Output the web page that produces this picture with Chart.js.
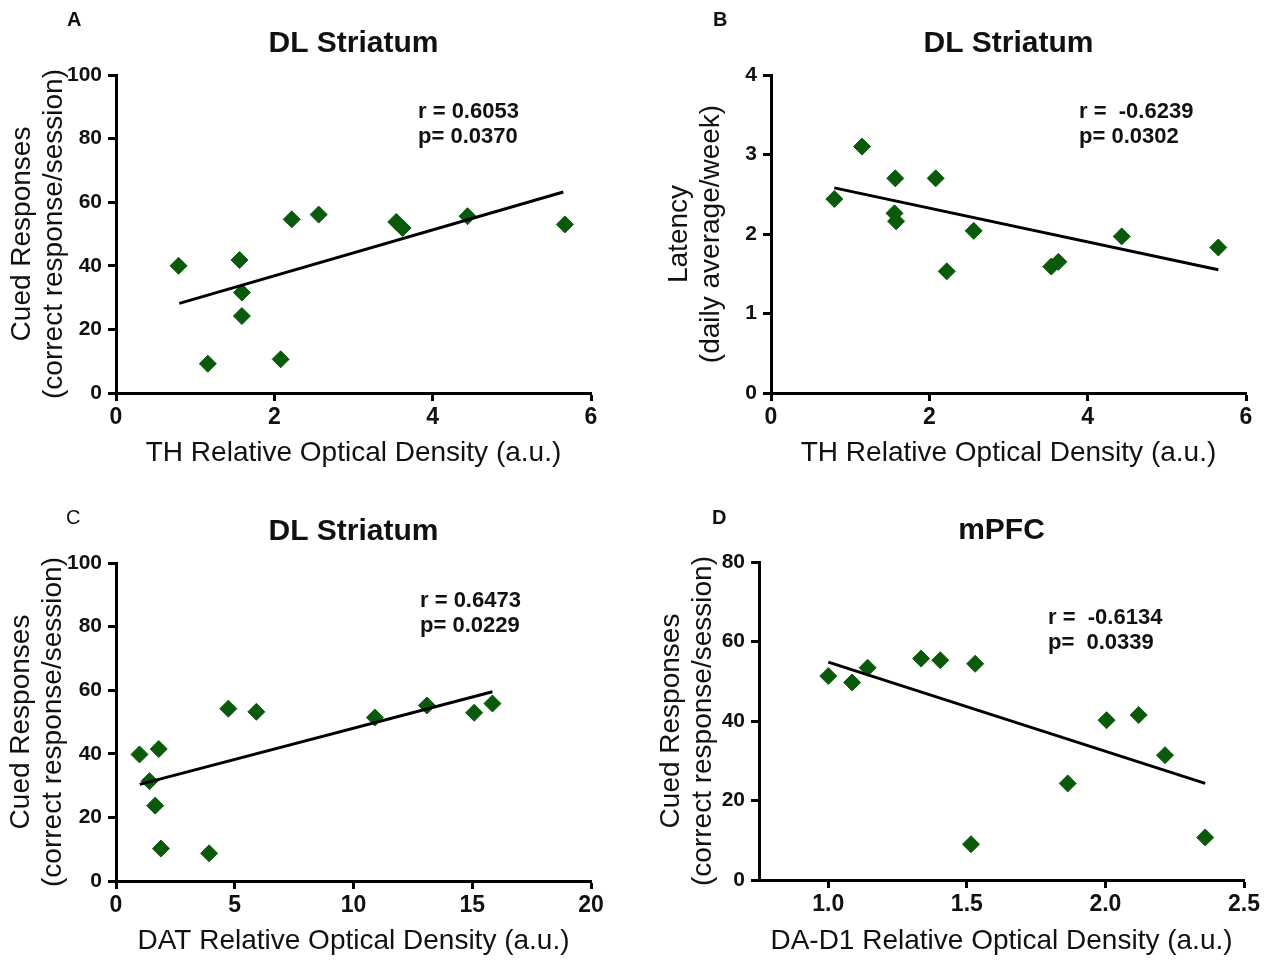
<!DOCTYPE html>
<html><head><meta charset="utf-8">
<script src="https://cdn.jsdelivr.net/npm/chart.js@4.4.1/dist/chart.umd.min.js"></script>
<style>
html,body{margin:0;padding:0;background:#fff;}
#wrap{position:relative;width:1273px;height:960px;overflow:hidden;background:#fff;}
canvas{position:absolute;left:0;top:0;}
</style></head><body><div id="wrap">
<canvas id="cA" width="1273" height="960"></canvas>
<canvas id="cB" width="1273" height="960"></canvas>
<canvas id="cC" width="1273" height="960"></canvas>
<canvas id="cD" width="1273" height="960"></canvas>
</div>
<script>
// ---------- data ----------
const thDensityA = [0.79, 1.16, 1.56, 1.59, 1.59, 2.08, 2.22, 2.56, 3.54, 3.62, 4.44, 5.67];
const cuedA      = [40.0, 9.2, 41.8, 31.6, 24.2, 10.6, 54.6, 56.1, 53.8, 51.9, 55.6, 53.0];
const thDensityB = [0.80, 1.15, 1.57, 1.56, 1.58, 2.08, 2.22, 2.56, 3.54, 3.63, 4.43, 5.65];
const latencyB   = [2.44, 3.10, 2.70, 2.26, 2.16, 2.70, 1.53, 2.04, 1.59, 1.65, 1.97, 1.83];
const datDensityC = [0.99, 1.41, 1.80, 1.65, 1.89, 3.92, 4.73, 5.91, 10.90, 13.09, 15.08, 15.85];
const cuedC       = [39.8, 31.4, 41.5, 23.7, 10.2, 8.7, 54.2, 53.2, 51.4, 55.2, 52.9, 55.8];
const d1DensityD = [1.00, 1.086, 1.142, 1.335, 1.404, 1.53, 1.515, 1.864, 2.004, 2.12, 2.215, 2.36];
const cuedD      = [51.3, 49.7, 53.4, 55.7, 55.3, 54.4, 9.0, 24.3, 40.2, 41.5, 31.4, 10.7];

// regression line end points
const fitAx = [0.80, 5.65], fitAy = [28.2, 63.2];
const fitBx = [0.80, 5.65], fitBy = [2.58, 1.55];
const fitCx = [1.00, 15.85], fitCy = [30.4, 59.5];
const fitDx = [1.00, 2.36], fitDy = [54.8, 24.3];

// ticks
const xTicksA = [0, 2, 4, 6],        xLabelsA = ['0','2','4','6'];
const yTicksA = [0, 20, 40, 60, 80, 100], yLabelsA = ['0','20','40','60','80','100'];
const xTicksB = [0, 2, 4, 6],        xLabelsB = ['0','2','4','6'];
const yTicksB = [0, 1, 2, 3, 4],     yLabelsB = ['0','1','2','3','4'];
const xTicksC = [0, 5, 10, 15, 20],  xLabelsC = ['0','5','10','15','20'];
const yTicksC = [0, 20, 40, 60, 80, 100], yLabelsC = ['0','20','40','60','80','100'];
const xTicksD = [1.0, 1.5, 2.0, 2.5], xLabelsD = ['1.0','1.5','2.0','2.5'];
const yTicksD = [0, 20, 40, 60, 80],  yLabelsD = ['0','20','40','60','80'];

// texts
const letters = ['A', 'B', 'C', 'D'];
const titles = ['DL Striatum', 'DL Striatum', 'DL Striatum', 'mPFC'];
const xTitles = ['TH Relative Optical Density (a.u.)', 'TH Relative Optical Density (a.u.)',
                 'DAT Relative Optical Density (a.u.)', 'DA-D1 Relative Optical Density (a.u.)'];
const yTitles = [['Cued Responses', '(correct response/session)'],
                 ['Latency', '(daily average/week)'],
                 ['Cued Responses', '(correct response/session)'],
                 ['Cued Responses', '(correct response/session)']];
const stats = [['r = 0.6053', 'p= 0.0370'], ['r =  -0.6239', 'p= 0.0302'],
               ['r = 0.6473', 'p= 0.0229'], ['r =  -0.6134', 'p=  0.0339']];

// ---------- layout / style ----------
const FONT = '"Liberation Sans", Arial, Helvetica, sans-serif';
const GREEN = '#0b5a0b';
const W = 1273, H = 960;
const panels = [
  {id:'cA', area:{l:116, r:591, t:75, b:393}, yw:110, xh:76, letter:[67,20], letterW:'bold', stat:[302,37],
   x:thDensityA, y:cuedA, fx:fitAx, fy:fitAy, xr:[0,6], yr:[0,100],
   xt:xTicksA, xl:xLabelsA, yt:yTicksA, yl:yLabelsA},
  {id:'cB', area:{l:771, r:1246, t:75, b:393}, yw:108, xh:76, letter:[713,20], letterW:'bold', stat:[308,37],
   x:thDensityB, y:latencyB, fx:fitBx, fy:fitBy, xr:[0,6], yr:[0,4],
   xt:xTicksB, xl:xLabelsB, yt:yTicksB, yl:yLabelsB},
  {id:'cC', area:{l:116, r:591, t:563, b:881}, yw:111, xh:76, letter:[66,518], letterW:'normal', stat:[304,38],
   x:datDensityC, y:cuedC, fx:fitCx, fy:fitCy, xr:[0,20], yr:[0,100],
   xt:xTicksC, xl:xLabelsC, yt:yTicksC, yl:yLabelsC},
  {id:'cD', area:{l:759, r:1244, t:562, b:880}, yw:104, xh:77, letter:[712,518], letterW:'bold', stat:[289,56],
   x:d1DensityD, y:cuedD, fx:fitDx, fy:fitDy, xr:[0.75,2.5], yr:[0,80],
   xt:xTicksD, xl:xLabelsD, yt:yTicksD, yl:yLabelsD}
];

const textPlugin = {
  id: 'panelText',
  afterDraw(chart, args, o) {
    const {ctx, chartArea: a} = chart;
    ctx.save();
    ctx.fillStyle = '#111';
    ctx.textBaseline = 'middle';
    ctx.textAlign = 'center';
    ctx.font = 'bold 30px ' + FONT;
    ctx.fillText(o.title, (a.left + a.right) / 2, a.top - 31);
    ctx.textAlign = 'left';
    ctx.font = o.letterWeight + ' 20px ' + FONT;
    ctx.fillText(o.letter, o.letterPos[0], o.letterPos[1]);
    ctx.font = 'bold 22px ' + FONT;
    o.stats.forEach((s, i) => ctx.fillText(s, a.left + o.statPos[0], a.top + o.statPos[1] + i * 25));
    ctx.restore();
  }
};

function axis(min, max, tickVals, tickLabels, title, isX, size) {
  return {
    type: 'linear', position: isX ? 'bottom' : 'left', min: min, max: max, bounds: 'data',
    afterBuildTicks: s => { s.ticks = tickVals.map(v => ({value: v})); },
    afterFit: s => { if (isX) s.height = size; else s.width = size; },
    ticks: {
      autoSkip: false, maxRotation: 0, padding: isX ? 3 : 6, color: '#111',
      font: {family: FONT, size: isX ? 23 : 21, weight: 'bold'},
      callback: (v, i) => tickLabels[i]
    },
    grid: {display: true, drawOnChartArea: false, drawTicks: true, tickLength: 8,
           tickWidth: 3, tickColor: '#000', color: '#000'},
    border: {display: true, color: '#000', width: 3},
    title: {display: true, text: title, color: '#111', padding: 0,
            font: {family: FONT, size: 28, lineHeight: 1.15}}
  };
}

panels.forEach((p, k) => {
  const pts = p.x.map((v, i) => ({x: v, y: p.y[i]}));
  const fit = p.fx.map((v, i) => ({x: v, y: p.fy[i]}));
  new Chart(document.getElementById(p.id), {
    type: 'scatter',
    data: {datasets: [
      {data: fit, showLine: true, borderColor: '#000', borderWidth: 3, pointRadius: 0, order: 0, fill: false},
      {data: pts, pointStyle: 'rectRot', pointRadius: 8.5, backgroundColor: GREEN, borderColor: GREEN,
       borderWidth: 1, order: 1}
    ]},
    options: {
      responsive: false, animation: false, devicePixelRatio: 1,
      layout: {padding: {left: p.area.l - p.yw, right: W - p.area.r, top: p.area.t, bottom: H - p.area.b - p.xh}},
      plugins: {legend: {display: false}, tooltip: {enabled: false},
        panelText: {title: titles[k], letter: letters[k], letterPos: p.letter, letterWeight: p.letterW,
                    stats: stats[k], statPos: p.stat}},
      scales: {
        x: axis(p.xr[0], p.xr[1], p.xt, p.xl, xTitles[k], true, p.xh),
        y: axis(p.yr[0], p.yr[1], p.yt, p.yl, yTitles[k], false, p.yw)
      }
    },
    plugins: [textPlugin]
  });
});
</script></body></html>
